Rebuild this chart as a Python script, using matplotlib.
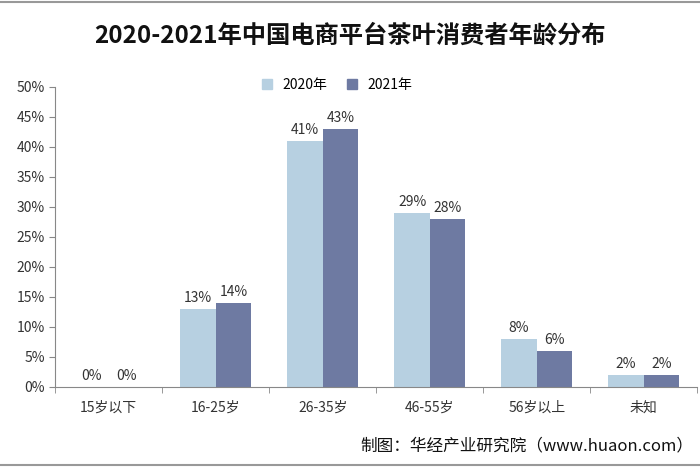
import matplotlib
matplotlib.use("Agg")
import matplotlib.pyplot as plt
import numpy as np
from matplotlib.lines import Line2D

plt.rcParams['font.family'] = ['Noto Sans CJK SC', 'DejaVu Sans']

categories = ["15岁以下", "16-25岁", "26-35岁", "46-55岁", "56岁以上", "未知"]
series_names = ["2020年", "2021年"]
v2020 = [0, 13, 41, 29, 8, 2]
v2021 = [0, 14, 43, 28, 6, 2]
yticks = [0, 5, 10, 15, 20, 25, 30, 35, 40, 45, 50]

c2020 = "#b7d0e1"
c2021 = "#6e7aa2"

fig = plt.figure(figsize=(7, 4.7), dpi=100)
ax = fig.add_axes([0.079, 0.177, 0.917, 0.638])

x = np.arange(len(categories))
w = 0.33
b1 = ax.bar(x - w/2, v2020, w, color=c2020, label=series_names[0])
b2 = ax.bar(x + w/2, v2021, w, color=c2021, label=series_names[1])

for bars, vals in ((b1, v2020), (b2, v2021)):
    for r, v in zip(bars, vals):
        ax.annotate(f"{v}%", (r.get_x() + r.get_width()/2, v), xytext=(0, 3),
                    textcoords="offset points", ha="center", va="bottom",
                    fontsize=10, color="#333333")

ax.set_xlim(-0.5, len(categories) - 0.5)
ax.set_ylim(0, 50)
ax.set_yticks(yticks)
ax.set_yticklabels([f"{t}%" for t in yticks], fontsize=10, color="#333333")
ax.set_xticks(x)
ax.set_xticklabels(categories, fontsize=10, color="#333333")
ax.tick_params(axis='x', length=0, pad=10)
ax.set_xticks(np.arange(-0.5, len(categories), 1), minor=True)
ax.tick_params(axis='x', which='minor', length=4, color="#888888", direction='out')
ax.tick_params(axis='y', length=4, color="#888888", direction='out')
for s in ("top", "right"):
    ax.spines[s].set_visible(False)
for s in ("left", "bottom"):
    ax.spines[s].set_color("#888888")

handles = [Line2D([], [], marker='s', linestyle='', color=c2020, markersize=7),
           Line2D([], [], marker='s', linestyle='', color=c2021, markersize=7)]
fig.legend(handles, series_names, loc='center', bbox_to_anchor=(0.475, 0.82),
           ncol=2, frameon=False, fontsize=10, handletextpad=0.1, columnspacing=0.8)

fig.text(0.5, 0.925, "2020-2021年中国电商平台茶叶消费者年龄分布", ha='center', va='center',
         fontsize=17.5, fontweight='bold', color="#111111")
fig.text(0.99, 0.052, "制图：华经产业研究院（www.huaon.com）", ha='right', va='center',
         fontsize=12, color="#111111")

fig.add_artist(Line2D([0, 1], [0.996, 0.996], color="#999999", lw=1.5, transform=fig.transFigure))
fig.add_artist(Line2D([0, 1], [0.01, 0.01], color="#999999", lw=1.5, transform=fig.transFigure))

fig.savefig("out.png", dpi=100)
